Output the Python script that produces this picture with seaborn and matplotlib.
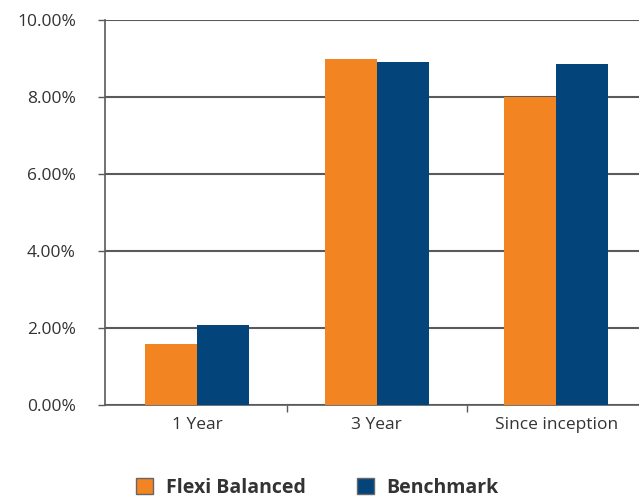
import pandas as pd
import matplotlib
matplotlib.use('Agg')
import matplotlib.pyplot as plt
import seaborn as sns
from matplotlib.patches import Patch
from matplotlib.ticker import FuncFormatter, FixedLocator

# 数据
categories = ['1 Year', '3 Year', 'Since inception']
flexi_balanced = [1.58, 9.00, 8.00]
benchmark = [2.08, 8.91, 8.86]
series_names = ['Flexi Balanced', 'Benchmark']
colors = ['#F28422', '#03457A']

df = pd.DataFrame({
    'period': categories * 2,
    'value': flexi_balanced + benchmark,
    'series': [series_names[0]] * 3 + [series_names[1]] * 3,
})

sns.set_style('white')
plt.rcParams['font.family'] = ['Open Sans', 'DejaVu Sans']

fig = plt.figure(figsize=(6.39, 4.97), dpi=100)
ax = fig.add_axes([105 / 639, 1 - 405 / 497, 534 / 639, 385 / 497])

sns.barplot(data=df, x='period', y='value', hue='series', palette=colors,
            width=0.58, saturation=1, ax=ax, legend=False, zorder=3,
            linewidth=0, edgecolor='none')

ax.set_ylim(0, 10)
ax.set_xlim(-0.514, 2.461)
ax.set_yticks([0, 2, 4, 6, 8, 10])
ax.yaxis.set_major_formatter(FuncFormatter(lambda v, p: f'{v:.2f}%'))
ax.grid(axis='y', color='#5a5a5a', linewidth=1.5, zorder=0)
ax.set_axisbelow(True)

ax.set_xlabel('')
ax.set_ylabel('')
for s in ['top', 'right']:
    ax.spines[s].set_visible(False)
ax.spines['left'].set_color('#5a5a5a')
ax.spines['bottom'].set_color('#5a5a5a')
ax.spines['left'].set_linewidth(1.2)
ax.spines['bottom'].set_linewidth(1.2)

ax.tick_params(axis='y', left=True, length=5, width=1, color='#5a5a5a',
               labelsize=12.5, labelcolor='#333333', pad=16)
ax.tick_params(axis='x', which='major', bottom=False, labelsize=12.5,
               labelcolor='#333333', pad=5)
ax.xaxis.set_minor_locator(FixedLocator([0.5, 1.5]))
ax.tick_params(axis='x', which='minor', bottom=True, length=5, width=1,
               color='#5a5a5a')

handles = [Patch(facecolor=c, edgecolor='#666666', label=n) for c, n in zip(colors, series_names)]
fig.legend(handles=handles, loc='center', bbox_to_anchor=(317.5 / 639, 1 - 488 / 497), ncol=2,
           frameon=False, prop={'weight': 'bold', 'size': 14}, handlelength=0.88,
           handleheight=0.88, columnspacing=2.6, handletextpad=0.67,
           labelcolor='#333333', borderpad=0)

fig.savefig('out.png', dpi=100)
